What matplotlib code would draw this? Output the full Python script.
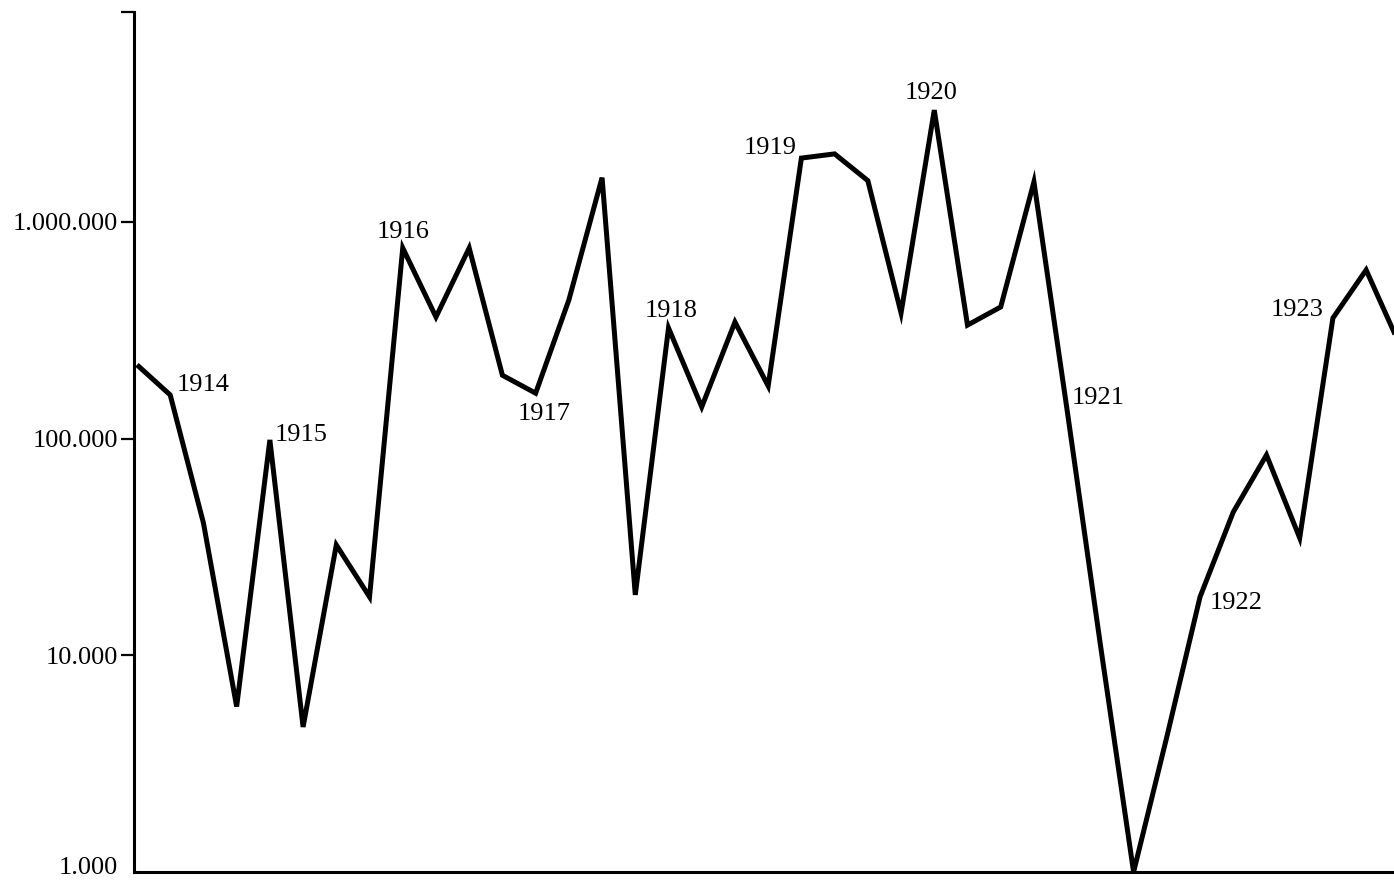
import matplotlib.pyplot as plt
import matplotlib.ticker as mticker
import numpy as np

# quarterly values (log scale)
values=[219000,159000,40800,5800,98600,4670,32300,18600,
        758000,364000,758000,196000,162000,436000,1600000,19000,
        324000,140000,345000,175000,1970000,2060000,1550000,380000,
        3280000,334000,405000,1530000,135000,11200,1000,4200,
        18600,45800,84000,34800,360000,600000,273000]
quarters=list(range(len(values)))

# year labels and the point each one sits next to
years=['1914','1915','1916','1917','1918','1919','1920','1921','1922','1923']
year_idx=[1,4,8,12,16,20,24,28,32,36]

ytick_vals=[10000,100000,1000000]
ytick_labels=['10.000','100.000','1.000.000']
y_bottom=1000
y_bottom_label='1.000'
y_top=10**(3+860/216.7)

plt.rcParams['font.family']=['Liberation Serif','DejaVu Serif']

fig=plt.figure(figsize=(13.94,8.8),dpi=100)
ax1=fig.add_axes([134/1394,8/880,(1406-134)/1394,860/880])

ax1.plot(quarters,values,'-',color='black',linewidth=3.6,solid_joinstyle='miter',solid_capstyle='butt')
ax1.set_yscale('log')
ax1.set_xlim(-0.09,38.2)
ax1.set_ylim(y_bottom,y_top)

ax1.set_yticks(ytick_vals+[y_top])
ax1.set_yticklabels(ytick_labels+[''])
ax1.yaxis.set_minor_locator(mticker.NullLocator())
ax1.tick_params(axis='y',direction='out',length=9.5,width=1.6,pad=2,labelsize=19,colors='black')
ax1.set_xticks([])

# bottom label sits a bit above the corner, no tick there
ax1.annotate(y_bottom_label,(0,y_bottom),xycoords=('axes fraction','data'),xytext=(-16,4),
             textcoords='offset pixels',ha='right',va='center',fontsize=19,color='black')

# hide spines
ax1.spines['top'].set_visible(False)
ax1.spines['right'].set_visible(False)
ax1.spines['left'].set_linewidth(2.2)
ax1.spines['bottom'].set_linewidth(2.2)
ax1.patch.set_facecolor('white')
fig.patch.set_facecolor('white')

# label offsets in pixels and alignment
offsets=[(6,10),(5,5),(0,16),(9,-21),(3,17),(-5,10),(-3,17),(5,12),(10,-6),(-9,8)]
aligns=['left','left','center','center','center','right','center','left','left','right']
for y,i,off,ha in zip(years,year_idx,offsets,aligns):
    ax1.annotate(y,(quarters[i],values[i]),xytext=off,textcoords='offset pixels',
                 ha=ha,va='center',fontsize=19,color='black')

plt.savefig('out.png',dpi=100)
